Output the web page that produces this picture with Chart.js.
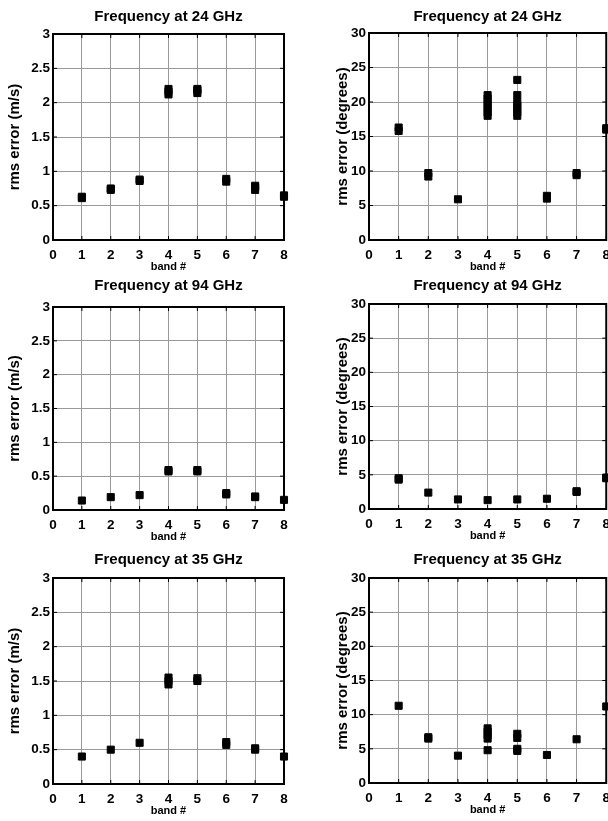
<!DOCTYPE html>
<html>
<head>
<meta charset="utf-8">
<script src="https://cdn.jsdelivr.net/npm/chart.js@4.4.1/dist/chart.umd.min.js"></script>
<style>
  html, body { margin: 0; padding: 0; background: #fff; }
  body { width: 608px; height: 821px; position: relative; overflow: hidden; }
  .panel { position: absolute; }
  .panel canvas { display: block; }
</style>
</head>
<body>
<div class="panel" style="left:0;top:0;width:300px;height:274px"><canvas id="c0"></canvas></div>
<div class="panel" style="left:300px;top:0;width:317px;height:274px"><canvas id="c1"></canvas></div>
<div class="panel" style="left:0;top:274px;width:300px;height:270px"><canvas id="c2"></canvas></div>
<div class="panel" style="left:300px;top:274px;width:317px;height:270px"><canvas id="c3"></canvas></div>
<div class="panel" style="left:0;top:544px;width:300px;height:277px"><canvas id="c4"></canvas></div>
<div class="panel" style="left:300px;top:544px;width:317px;height:277px"><canvas id="c5"></canvas></div>
<script>
// band numbers on the x axis
const bands = [1, 2, 3, 4, 5, 6, 7, 8];
const bandTicks = [0, 1, 2, 3, 4, 5, 6, 7, 8];
const speedTicks = [0, 0.5, 1, 1.5, 2, 2.5, 3];
const dirTicks = [0, 5, 10, 15, 20, 25, 30];

// rms error per band (several runs per band, overlapping markers)
const speed24 = [[0.61, 0.63], [0.73, 0.75], [0.86, 0.88], [2.12, 2.16, 2.2], [2.14, 2.18, 2.2], [0.85, 0.89], [0.73, 0.77, 0.79], [0.63, 0.65]];
const dir24 = [[15.8, 16.3], [9.2, 9.7], [5.9], [18, 18.5, 19, 19.5, 20, 20.5, 21], [23.2, 21, 20, 19.5, 19, 18.5, 18], [6, 6.4], [9.4, 9.7], [16, 16.2]];
const speed94 = [[0.14], [0.19], [0.22], [0.57, 0.59], [0.57, 0.59], [0.23, 0.25], [0.19, 0.2], [0.15]];
const dir94 = [[4.3, 4.5], [2.4], [1.4], [1.3], [1.4], [1.5], [2.5, 2.6], [4.5, 4.6]];
const speed35 = [[0.4], [0.5], [0.6], [1.45, 1.5, 1.55], [1.5, 1.54], [0.57, 0.61], [0.5, 0.52], [0.4]];
const dir35 = [[11.3], [6.5, 6.7], [4], [4.8, 6.5, 7, 7.5, 8], [4.7, 5, 6.6, 7.2], [4.1], [6.4], [11.2]];

const titles = ['Frequency at 24 GHz', 'Frequency at 24 GHz', 'Frequency at 94 GHz', 'Frequency at 94 GHz', 'Frequency at 35 GHz', 'Frequency at 35 GHz'];

const FONT = '"Liberation Sans", Arial, Helvetica, sans-serif';

function toPoints(series) {
    const pts = [];
    series.forEach((vals, i) => vals.forEach(v => pts.push({ x: bands[i], y: v })));
    return pts;
}

// full box around the plot area, small inward tick marks, title centred over the axes
const boxPlugin = {
    id: 'box',
    beforeDatasetsDraw(chart, args, opts) {
        const { ctx, chartArea: a, scales } = chart;
        ctx.save();
        ctx.strokeStyle = '#000';
        ctx.lineWidth = 1;
        ctx.beginPath();
        scales.x.ticks.forEach(t => {
            const x = scales.x.getPixelForValue(t.value);
            ctx.moveTo(x, a.bottom); ctx.lineTo(x, a.bottom - 4);
            ctx.moveTo(x, a.top); ctx.lineTo(x, a.top + 4);
        });
        scales.y.ticks.forEach(t => {
            const y = scales.y.getPixelForValue(t.value);
            ctx.moveTo(a.left, y); ctx.lineTo(a.left + 4, y);
            ctx.moveTo(a.right, y); ctx.lineTo(a.right - 4, y);
        });
        ctx.stroke();
        ctx.lineWidth = 2;
        ctx.strokeRect(a.left, a.top, a.right - a.left, a.bottom - a.top);

        ctx.fillStyle = '#000';
        ctx.font = 'bold 15px ' + FONT;
        ctx.textAlign = 'center';
        ctx.textBaseline = 'middle';
        ctx.fillText(opts.text, (a.left + a.right) / 2, opts.y);
        ctx.restore();
    }
};

function makeChart(idx, series, yTicks, yLabel, cfg) {
    new Chart(document.getElementById('c' + idx), {
        type: 'scatter',
        data: {
            datasets: [{
                data: toPoints(series),
                pointStyle: 'rect',
                pointRadius: 5,
                pointHoverRadius: 5,
                pointBorderWidth: 1,
                borderColor: '#000',
                backgroundColor: '#000',
                clip: false
            }]
        },
        options: {
            responsive: true,
            maintainAspectRatio: false,
            animation: false,
            events: [],
            layout: { padding: { top: cfg.top, right: cfg.right, left: 0, bottom: cfg.bottom } },
            plugins: {
                legend: { display: false },
                tooltip: { enabled: false },
                title: { display: false },
                box: { text: titles[idx], y: cfg.titleY }
            },
            scales: {
                x: {
                    type: 'linear',
                    min: bandTicks[0],
                    max: bandTicks[bandTicks.length - 1],
                    afterBuildTicks: s => { s.ticks = bandTicks.map(v => ({ value: v })); },
                    afterFit: s => { s.height = 34; },
                    border: { display: false },
                    grid: { color: '#9a9a9a', lineWidth: 1, borderDash: [1, 6], drawTicks: false },
                    ticks: { color: '#000', padding: 7, callback: v => String(v), font: { family: FONT, size: 13.5, weight: 'bold' } },
                    title: { display: true, text: 'band #', color: '#000', padding: { top: 0, bottom: 0 }, font: { family: FONT, size: 11, weight: 'bold' } }
                },
                y: {
                    min: yTicks[0],
                    max: yTicks[yTicks.length - 1],
                    afterBuildTicks: s => { s.ticks = yTicks.map(v => ({ value: v })); },
                    afterFit: s => { s.width = cfg.yWidth; },
                    border: { display: false },
                    grid: { color: '#9a9a9a', lineWidth: 1, borderDash: [1, 6], drawTicks: false },
                    ticks: { color: '#000', padding: 3, callback: v => String(v), font: { family: FONT, size: 13.5, weight: 'bold' } },
                    title: { display: true, text: yLabel, color: '#000', padding: { top: cfg.yTitlePad, bottom: 0 }, font: { family: FONT, size: 15, weight: 'bold' } }
                }
            }
        },
        plugins: [boxPlugin]
    });
}

const leftCfg = { right: 16, yWidth: 53, yTitlePad: 6 };
const rightCfg = { right: 2, yWidth: 69, yTitlePad: 34 };

makeChart(0, speed24, speedTicks, 'rms error (m/s)', Object.assign({}, leftCfg, { top: 34, bottom: 0, titleY: 17 }));
makeChart(1, dir24, dirTicks, 'rms error (degrees)', Object.assign({}, rightCfg, { top: 33, bottom: 0, titleY: 17 }));
makeChart(2, speed94, speedTicks, 'rms error (m/s)', Object.assign({}, leftCfg, { top: 33, bottom: 0, titleY: 12 }));
makeChart(3, dir94, dirTicks, 'rms error (degrees)', Object.assign({}, rightCfg, { top: 30, bottom: 1, titleY: 12 }));
makeChart(4, speed35, speedTicks, 'rms error (m/s)', Object.assign({}, leftCfg, { top: 34, bottom: 3, titleY: 16 }));
makeChart(5, dir35, dirTicks, 'rms error (degrees)', Object.assign({}, rightCfg, { top: 34, bottom: 4, titleY: 16 }));
</script>
</body>
</html>
